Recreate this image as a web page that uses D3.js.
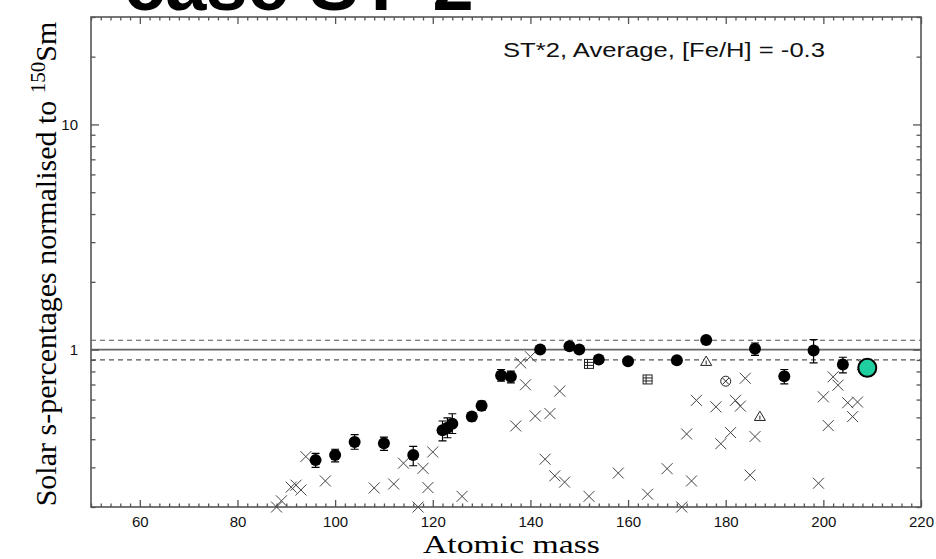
<!DOCTYPE html>
<html>
<head>
<meta charset="utf-8">
<script src="https://cdn.jsdelivr.net/npm/d3@7"></script>
<style>
  body { margin: 0; background: #fff; }
  svg { display: block; }
</style>
</head>
<body>
<div id="chart"></div>
<script>
// s-process fits normalised to 150Sm, case ST*2

// measured isotopes (filled dots with error bars)
var dotMass  = [96, 100, 104, 110, 116, 122, 123, 124, 128, 130, 134, 136, 142, 148, 150, 154, 160, 170, 176, 186, 192, 198, 204];
var dotValue = [0.323, 0.34, 0.389, 0.384, 0.34, 0.438, 0.45, 0.469, 0.504, 0.563, 0.767, 0.757, 1.0, 1.034, 1.0, 0.903, 0.888, 0.897, 1.104, 1.01, 0.762, 0.99, 0.858];
var dotLow   = [0.300, 0.317, 0.361, 0.357, 0.305, 0.393, 0.406, 0.424, 0.482, 0.537, 0.724, 0.712, 0.97, 1.00, 0.97, 0.88, 0.86, 0.87, 1.07, 0.943, 0.705, 0.873, 0.789];
var dotHigh  = [0.346, 0.361, 0.419, 0.409, 0.372, 0.482, 0.498, 0.519, 0.525, 0.590, 0.816, 0.802, 1.03, 1.07, 1.03, 0.93, 0.92, 0.92, 1.14, 1.07, 0.816, 1.107, 0.925];

// other isotopes (crosses)
var crossMass  = [88, 89, 91, 92, 93, 94, 98, 108, 112, 114, 117, 118, 119, 120, 126, 137, 138, 139, 140, 141, 143, 144, 145, 146, 147, 152, 158, 164, 168, 171, 172, 173, 174, 178, 179, 181, 182, 183, 184, 185, 186, 199, 200, 201, 202, 203, 205, 206, 207, 208];
var crossValue = [0.2, 0.213, 0.245, 0.25, 0.238, 0.335, 0.261, 0.243, 0.253, 0.313, 0.2, 0.297, 0.244, 0.351, 0.223, 0.458, 0.873, 0.698, 0.93, 0.507, 0.326, 0.52, 0.275, 0.654, 0.258, 0.223, 0.283, 0.228, 0.296, 0.2, 0.422, 0.261, 0.595, 0.557, 0.382, 0.428, 0.595, 0.561, 0.746, 0.277, 0.411, 0.255, 0.617, 0.46, 0.757, 0.695, 0.581, 0.504, 0.585, 0.858];

// special symbols
var gridMass = [152, 164], gridValue = [0.864, 0.737];
var otimesMass = [180], otimesValue = [0.724];
var triMass = [176, 187], triValue = [0.885, 0.504];
var bigMass = [209], bigValue = [0.83];

var refLines = [0.9, 1.0, 1.1];
var xLabelTicks = [60, 80, 100, 120, 140, 160, 180, 200, 220];
var yLabelTicks = [1, 10];
var yMinorTicks = [0.2, 0.3, 0.4, 0.5, 0.6, 0.7, 0.8, 0.9, 2, 3, 4, 5, 6, 7, 8, 9, 20, 30];

var width = 936, height = 559;
var margin = { top: 17, right: 15, bottom: 52, left: 91 };
var plotW = width - margin.left - margin.right,
    plotH = height - margin.top - margin.bottom;

var svg = d3.select("#chart").append("svg")
    .attr("width", width)
    .attr("height", height);

var x = d3.scaleLinear().domain([50, 220]).range([0, plotW]);
var y = d3.scaleLog().domain([0.2, 30]).range([plotH, 0]);

var g = svg.append("g")
    .attr("transform", "translate(" + margin.left + "," + margin.top + ")");

// title, mostly cut off at the top
svg.append("text")
    .attr("x", 124)
    .attr("y", 10)
    .style("font-family", "'Liberation Sans', Arial, sans-serif")
    .style("font-size", "74px")
    .style("font-weight", "bold")
    .text("case ST*2");

// reference lines
g.selectAll(".ref")
    .data(refLines)
    .enter()
    .append("line")
    .attr("x1", 0)
    .attr("x2", plotW)
    .attr("y1", function (d) { return y(d); })
    .attr("y2", function (d) { return y(d); })
    .attr("stroke", function (d) { return d == 1 ? "#666" : "#555"; })
    .attr("stroke-width", function (d) { return d == 1 ? 1.6 : 1.1; })
    .attr("stroke-dasharray", function (d) { return d == 1 ? null : "5,4"; });

// axes
var minorX = d3.range(50, 221, 2).filter(function (d) { return d % 20 != 0; });
var axisColor = "#555";

function styleAxis(sel) {
    sel.select(".domain").remove();
    sel.selectAll("line").attr("stroke", axisColor).attr("stroke-width", 1.3);
    sel.selectAll("text")
        .attr("fill", "#111")
        .style("font-family", "'Liberation Sans', Arial, sans-serif")
        .style("font-size", "15px");
}

g.append("g").attr("transform", "translate(0," + plotH + ")")
    .call(d3.axisBottom(x).tickValues(xLabelTicks).tickSize(-7).tickPadding(9).tickFormat(d3.format("d")))
    .call(styleAxis);
g.append("g").attr("transform", "translate(0," + plotH + ")")
    .call(d3.axisBottom(x).tickValues(minorX).tickSize(-3.5).tickFormat(""))
    .call(styleAxis);
g.append("g")
    .call(d3.axisTop(x).tickValues(xLabelTicks).tickSize(-7).tickFormat(""))
    .call(styleAxis);
g.append("g")
    .call(d3.axisTop(x).tickValues(minorX).tickSize(-3.5).tickFormat(""))
    .call(styleAxis);

g.append("g")
    .call(d3.axisLeft(y).tickValues(yLabelTicks).tickSize(-8).tickPadding(13).tickFormat(d3.format("d")))
    .call(styleAxis);
g.append("g")
    .call(d3.axisLeft(y).tickValues(yMinorTicks).tickSize(-4.5).tickFormat(""))
    .call(styleAxis);
g.append("g").attr("transform", "translate(" + plotW + ",0)")
    .call(d3.axisRight(y).tickValues(yLabelTicks).tickSize(-8).tickFormat(""))
    .call(styleAxis);
g.append("g").attr("transform", "translate(" + plotW + ",0)")
    .call(d3.axisRight(y).tickValues(yMinorTicks).tickSize(-4.5).tickFormat(""))
    .call(styleAxis);

// frame
g.append("rect")
    .attr("width", plotW)
    .attr("height", plotH)
    .attr("fill", "none")
    .attr("stroke", axisColor)
    .attr("stroke-width", 1.6);

// crosses
var cs = 5.5;
g.selectAll(".cross")
    .data(crossMass)
    .enter()
    .append("path")
    .attr("d", function (d, i) {
        var cx = x(d), cy = y(crossValue[i]);
        return "M" + (cx - cs) + "," + (cy - cs) + "L" + (cx + cs) + "," + (cy + cs) +
               "M" + (cx - cs) + "," + (cy + cs) + "L" + (cx + cs) + "," + (cy - cs);
    })
    .attr("stroke", "#444")
    .attr("stroke-width", 1)
    .attr("fill", "none");

// error bars
var cap = 4;
g.selectAll(".err")
    .data(dotMass)
    .enter()
    .append("path")
    .attr("d", function (d, i) {
        var cx = x(d), y0 = y(dotLow[i]), y1 = y(dotHigh[i]);
        return "M" + cx + "," + y0 + "L" + cx + "," + y1 +
               "M" + (cx - cap) + "," + y0 + "L" + (cx + cap) + "," + y0 +
               "M" + (cx - cap) + "," + y1 + "L" + (cx + cap) + "," + y1;
    })
    .attr("stroke", "#000")
    .attr("stroke-width", 1.2)
    .attr("fill", "none");

g.selectAll(".dot")
    .data(dotMass)
    .enter()
    .append("circle")
    .attr("cx", function (d) { return x(d); })
    .attr("cy", function (d, i) { return y(dotValue[i]); })
    .attr("r", 6)
    .attr("fill", "#000");

// grid squares
gridMass.forEach(function (m, i) {
    var cx = x(m), cy = y(gridValue[i]), s = 4.5;
    var sq = g.append("g").attr("stroke", "#222").attr("stroke-width", 1).attr("fill", "none");
    sq.append("rect").attr("x", cx - s).attr("y", cy - s).attr("width", 2 * s).attr("height", 2 * s).attr("fill", "#fff");
    sq.append("path").attr("d",
        "M" + (cx - s) + "," + (cy - s / 3) + "H" + (cx + s) +
        "M" + (cx - s) + "," + (cy + s / 3) + "H" + (cx + s) +
        "M" + (cx - s / 3) + "," + (cy - s) + "V" + (cy + s));
});

// circled cross
otimesMass.forEach(function (m, i) {
    var cx = x(m), cy = y(otimesValue[i]), r = 5, k = 3.2;
    var o = g.append("g").attr("stroke", "#222").attr("stroke-width", 1).attr("fill", "none");
    o.append("circle").attr("cx", cx).attr("cy", cy).attr("r", r).attr("fill", "#fff");
    o.append("path").attr("d",
        "M" + (cx - k) + "," + (cy - k) + "L" + (cx + k) + "," + (cy + k) +
        "M" + (cx - k) + "," + (cy + k) + "L" + (cx + k) + "," + (cy - k));
});

// triangles
triMass.forEach(function (m, i) {
    var cx = x(m), cy = y(triValue[i]), s = 5.5;
    var t = g.append("g").attr("stroke", "#222").attr("stroke-width", 1).attr("fill", "none");
    t.append("path")
        .attr("d", "M" + cx + "," + (cy - s) + "L" + (cx + s) + "," + (cy + s * 0.7) + "L" + (cx - s) + "," + (cy + s * 0.7) + "Z")
        .attr("fill", "#fff");
    t.append("path").attr("d", "M" + cx + "," + (cy - 1) + "V" + (cy + 3));
});

// big highlighted point
g.selectAll(".big")
    .data(bigMass)
    .enter()
    .append("circle")
    .attr("cx", function (d) { return x(d); })
    .attr("cy", function (d, i) { return y(bigValue[i]); })
    .attr("r", 9)
    .attr("fill", "#1fcf9f")
    .attr("stroke", "#000")
    .attr("stroke-width", 2);

// annotation
svg.append("text")
    .attr("x", 503)
    .attr("y", 57)
    .attr("textLength", 322)
    .attr("lengthAdjust", "spacingAndGlyphs")
    .style("font-family", "'Liberation Sans', Arial, sans-serif")
    .style("font-size", "20px")
    .attr("fill", "#111")
    .text("ST*2, Average, [Fe/H] = -0.3");

// axis titles
svg.append("text")
    .attr("x", 423)
    .attr("y", 553)
    .attr("textLength", 177)
    .attr("lengthAdjust", "spacingAndGlyphs")
    .style("font-family", "'Liberation Serif', 'Times New Roman', serif")
    .style("font-size", "25px")
    .text("Atomic mass");

var yl = svg.append("text")
    .attr("transform", "translate(56," + (margin.top + plotH / 2 + 2) + ") rotate(-90)")
    .attr("text-anchor", "middle")
    .style("font-family", "'Liberation Serif', 'Times New Roman', serif")
    .style("font-size", "30px");
yl.append("tspan").text("Solar s-percentages normalised to ");
yl.append("tspan").attr("dy", -11).style("font-size", "21px").text("150");
yl.append("tspan").attr("dy", 11).text("Sm");
</script>
</body>
</html>
